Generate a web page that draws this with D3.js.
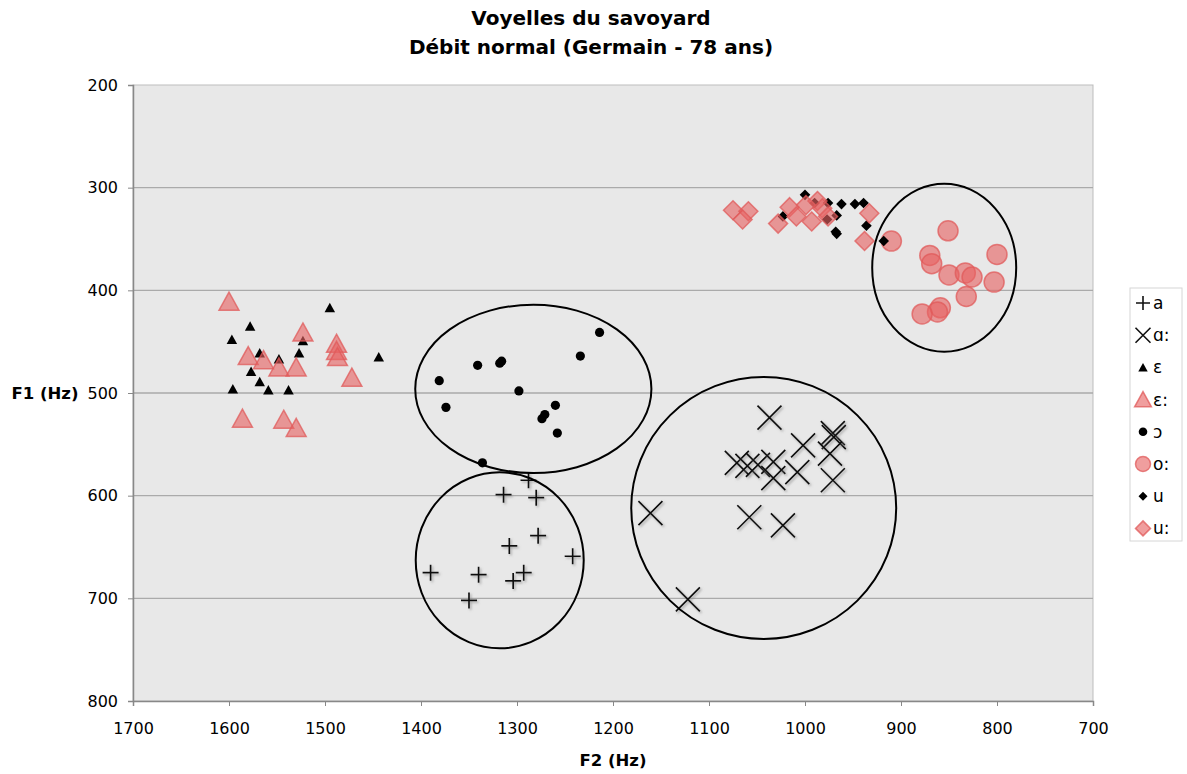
<!DOCTYPE html>
<html><head><meta charset="utf-8">
<script src="https://cdn.jsdelivr.net/npm/d3@7"></script>
<style>
body{margin:0;background:#fff;}
text{font-family:"DejaVu Sans",Verdana,sans-serif;}
</style></head>
<body><svg id="c" width="1187" height="774"></svg>
<script>
// ---- data (F2 Hz, F1 Hz) ----
const xTicks = [1700,1600,1500,1400,1300,1200,1100,1000,900,800,700];
const yTicks = [200,300,400,500,600,700,800];
const seriesNames = ["a","ɑ:","ɛ","ɛ:","ɔ","o:","u","u:"];

const a_F2 = [1288,1314,1280,1278,1308,1242,1390,1340,1293,1304,1350];
const a_F1 = [585,599,602,639,649,659,675,677,675,683,702];

const aa_F2 = [1037,1002,971,970,974,1071,1060,1049,1033,1033,1008,971,1161,1058,1023,1122];
const aa_F1 = [524,551,539,543,559,568,571,570,567,583,577,585,617,621,629,701];

const e_F2 = [1495,1578,1597,1523,1568,1548,1527,1577,1568,1596,1559,1538,1444];
const e_F1 = [417,435,448,449,461,467,461,479,489,496,497,497,465];

const ee_F2 = [1600,1523,1580,1564,1548,1530,1488,1488,1487,1472,1586,1543,1530];
const ee_F1 = [411,441,464,468,475,475,452,459,465,485,525,526,534];

const o_F2 = [1214,1234,1341,1318,1316,1381,1298,1374,1260,1271,1274,1258,1336];
const o_F1 = [441,464,473,471,469,488,498,514,512,521,525,539,568];

const oo_F2 = [851,870,868,850,833,826,800,803,832,859,862,878,910];
const oo_F1 = [342,366,374,385,383,387,365,392,406,417,421,423,352];

const u_F2 = [1000,990,976,962,948,939,967,977,1023,936,968,967,918];
const u_F1 = [307,315,315,316,316,315,327,331,328,337,343,345,352];

const uu_F2 = [1075,1059,1065,1028,1016,1009,999,987,993,982,976,933,938];
const uu_F1 = [322,323,331,335,319,328,317,313,333,320,328,325,352];

// annotation ellipses: centre F2, centre F1, radius in Hz (F2), radius in Hz (F1)
const ell_F2 = [1283,1318,1043,855];
const ell_F1 = [496,663,612,378];
const ell_rF2 = [123,87.5,138,75];
const ell_rF1 = [82,85.7,127.6,81.8];

// ---- layout ----
const svg = d3.select("#c");
const L=133,R=1093,T=85,B=701;
const x = d3.scaleLinear().domain([1700,700]).range([L,R]);
const y = d3.scaleLinear().domain([200,800]).range([T,B]);

const defs = svg.append("defs");
const f = defs.append("filter").attr("id","sh").attr("x","-50%").attr("y","-50%").attr("width","200%").attr("height","200%");
f.append("feDropShadow").attr("dx",1.5).attr("dy",1.5).attr("stdDeviation",0.8).attr("flood-color","#777").attr("flood-opacity",0.6);

svg.append("rect").attr("x",L).attr("y",T).attr("width",R-L).attr("height",B-T)
  .attr("fill","#e8e8e8").attr("stroke","#bdbdbd").attr("stroke-width",1);

svg.append("g").selectAll("line").data(yTicks.filter(v=>v>200&&v<800)).join("line")
  .attr("x1",L).attr("x2",R).attr("y1",d=>y(d)).attr("y2",d=>y(d))
  .attr("stroke","#aaaaaa").attr("stroke-width",1.3);

// axes
const xa = svg.append("g").attr("transform",`translate(0,${B})`)
  .call(d3.axisBottom(x).tickValues(xTicks).tickSize(5).tickPadding(17).tickFormat(d3.format("d")));
const ya = svg.append("g").attr("transform",`translate(${L},0)`)
  .call(d3.axisLeft(y).tickValues(yTicks).tickSize(5).tickPadding(10).tickFormat(d3.format("d")));
[xa,ya].forEach(g=>{
  g.select(".domain").attr("stroke","#888").attr("stroke-width",1.5);
  g.selectAll(".tick line").attr("stroke","#888");
  g.selectAll("text").attr("font-size",16).attr("fill","#000").style("font-family","'DejaVu Sans',Verdana,sans-serif");
});

// titles
svg.append("text").attr("x",591).attr("y",25).attr("text-anchor","middle").attr("font-size",20).attr("font-weight","bold").text("Voyelles du savoyard");
svg.append("text").attr("x",591).attr("y",54).attr("text-anchor","middle").attr("font-size",20).attr("font-weight","bold").text("Débit normal (Germain - 78 ans)");
svg.append("text").attr("x",613).attr("y",766).attr("text-anchor","middle").attr("font-size",16.5).attr("font-weight","bold").text("F2 (Hz)");
svg.append("text").attr("x",45).attr("y",399).attr("text-anchor","middle").attr("font-size",16.5).attr("font-weight","bold").text("F1 (Hz)");

// marker shapes
const RED_FILL="#e66363", RED_STROKE="#e05a5a";
const shapes = {
  plus: s=>`M${-s},0H${s}M0,${-s}V${s}`,
  cross: s=>`M${-s},${-s}L${s},${s}M${-s},${s}L${s},${-s}`,
  tri: s=>`M0,${-s}L${s*1.05},${s*0.9}L${-s*1.05},${s*0.9}Z`,
  dia: s=>`M0,${-s}L${s},0L0,${s}L${-s},0Z`
};
function styleRed(sel){ return sel.attr("fill",RED_FILL).attr("fill-opacity",0.62).attr("stroke",RED_STROKE).attr("stroke-opacity",0.75).attr("stroke-width",1.5); }

const series = [
  {name:seriesNames[0], F2:a_F2, F1:a_F1, kind:"plus", s:8, red:false, lineMark:true},
  {name:seriesNames[1], F2:aa_F2, F1:aa_F1, kind:"cross", s:12, red:false, lineMark:true},
  {name:seriesNames[2], F2:e_F2, F1:e_F1, kind:"tri", s:5, red:false},
  {name:seriesNames[3], F2:ee_F2, F1:ee_F1, kind:"tri", s:9.5, red:true},
  {name:seriesNames[4], F2:o_F2, F1:o_F1, kind:"circle", s:4.6, red:false},
  {name:seriesNames[5], F2:oo_F2, F1:oo_F1, kind:"circle", s:10, red:true},
  {name:seriesNames[6], F2:u_F2, F1:u_F1, kind:"dia", s:5.3, red:false},
  {name:seriesNames[7], F2:uu_F2, F1:uu_F1, kind:"dia", s:9.5, red:true}
];

function drawMark(g, kind, s, red, lineMark){
  let el;
  if(kind==="circle") el = g.append("circle").attr("r",s);
  else el = g.append("path").attr("d",shapes[kind](s));
  if(lineMark){ el.attr("fill","none").attr("stroke","#111").attr("stroke-width",1.7).attr("filter","url(#sh)"); }
  else if(red){ styleRed(el); }
  else { el.attr("fill","#000").attr("stroke","none"); }
  return el;
}

const plot = svg.append("g");
series.forEach(sr=>{
  const pts = sr.F2.map((v,i)=>({F2:v,F1:sr.F1[i]}));
  const gs = plot.append("g");
  gs.selectAll("g").data(pts).join("g")
    .attr("transform",d=>`translate(${x(d.F2)},${y(d.F1)})`)
    .each(function(){ drawMark(d3.select(this), sr.kind, sr.s, sr.red, sr.lineMark); });
});

// ellipses
const ells = ell_F2.map((v,i)=>({cx:v,cy:ell_F1[i],rx:ell_rF2[i],ry:ell_rF1[i]}));
svg.append("g").selectAll("ellipse").data(ells).join("ellipse")
  .attr("cx",d=>x(d.cx)).attr("cy",d=>y(d.cy))
  .attr("rx",d=>Math.abs(x(d.cx+d.rx)-x(d.cx))).attr("ry",d=>Math.abs(y(d.cy+d.ry)-y(d.cy)))
  .attr("fill","none").attr("stroke","#000").attr("stroke-width",2);

// legend
const lg = svg.append("g");
lg.append("rect").attr("x",1130).attr("y",288).attr("width",52).attr("height",253)
  .attr("fill","#fff").attr("stroke","#d6d6d6");
const legSize = {plus:7, cross:7.5, tri:[4.5,8], circle:[4.3,7.5], dia:[4.5,7.5]};
series.forEach((sr,i)=>{
  const yy = 303 + i*32.2;
  const g = lg.append("g").attr("transform",`translate(1143,${yy})`);
  let s = legSize[sr.kind];
  if(Array.isArray(s)) s = sr.red? s[1] : s[0];
  const el = drawMark(g, sr.kind, s, sr.red, sr.lineMark);
  if(sr.lineMark) el.attr("filter",null).attr("stroke-width",1.6);
  lg.append("text").attr("x",1153).attr("y",yy+6).attr("font-size",17).text(sr.name);
});
</script></body></html>
